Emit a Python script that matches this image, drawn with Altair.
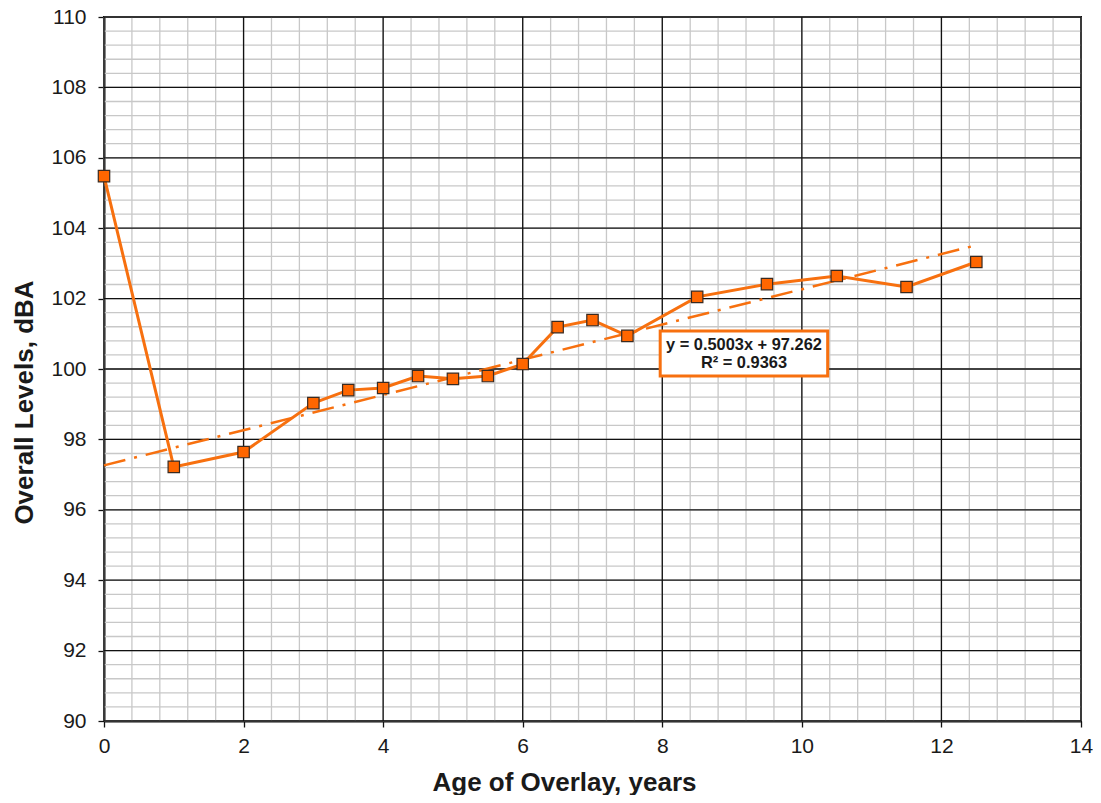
import altair as alt
import pandas as pd
import numpy as np

# Data
age = [0, 1, 2, 3, 3.5, 4, 4.5, 5, 5.5, 6, 6.5, 7, 7.5, 8.5, 9.5, 10.5, 11.5, 12.5]
level = [105.48, 97.22, 97.64, 99.03, 99.40, 99.46, 99.80, 99.72, 99.80, 100.14,
         101.19, 101.39, 100.94, 102.05, 102.41, 102.64, 102.33, 103.04]

trend_x = [0, 12.5]
trend_y = [97.262, 103.516]

eq_lines = ["y = 0.5003x + 97.262", "R² = 0.9363"]

x_major = [0, 2, 4, 6, 8, 10, 12, 14]
y_major = [90, 92, 94, 96, 98, 100, 102, 104, 106, 108, 110]
x_minor = [round(v, 1) for v in np.arange(0, 14.001, 0.4)]
y_minor = [round(v, 1) for v in np.arange(90, 110.001, 0.4)]

ORANGE = "#F7700F"
MARK = "#FF6600"
FONT = "Liberation Sans"

df = pd.DataFrame({"age": age, "level": level})
tdf = pd.DataFrame({"age": trend_x, "level": trend_y})

xs = alt.Scale(domain=[0, 14], nice=False, zero=False)
ys = alt.Scale(domain=[90, 110], nice=False, zero=False)

x_axis = alt.Axis(
    values=x_major, format="d", title="Age of Overlay, years", grid=False,
    tickColor="#111111", tickSize=6, tickWidth=1.3, labelFlush=False,
    labelFontSize=21, labelFont=FONT, labelColor="#1a1a1a", labelPadding=8,
    titleFontSize=26, titleFont=FONT, titleFontWeight="bold", titleColor="#1a1a1a",
    titleX=460, titleY=69, titleAlign="center", titleBaseline="alphabetic",
    domainColor="#111111", domainWidth=2,
)
y_axis = alt.Axis(
    values=y_major, format="d", title="Overall Levels, dBA", grid=False,
    tickColor="#111111", tickSize=6, tickWidth=1.3, labelFlush=False,
    labelFontSize=21, labelFont=FONT, labelColor="#1a1a1a", labelPadding=12,
    titleFontSize=26, titleFont=FONT, titleFontWeight="bold", titleColor="#1a1a1a",
    titleX=-80, titleY=385, titleAlign="center", titleBaseline="middle", titleAngle=270,
    domainColor="#111111", domainWidth=2,
)

gx_minor = alt.Chart(pd.DataFrame({"v": x_minor})).mark_rule(color="#c8c8c8", strokeWidth=1.3).encode(
    x=alt.X("v:Q", scale=xs, axis=x_axis))
gy_minor = alt.Chart(pd.DataFrame({"v": y_minor})).mark_rule(color="#c8c8c8", strokeWidth=1.3).encode(
    y=alt.Y("v:Q", scale=ys, axis=y_axis))
gx_major = alt.Chart(pd.DataFrame({"v": x_major})).mark_rule(color="#111111", strokeWidth=1.3).encode(
    x=alt.X("v:Q", scale=xs))
gy_major = alt.Chart(pd.DataFrame({"v": y_major})).mark_rule(color="#111111", strokeWidth=1.3).encode(
    y=alt.Y("v:Q", scale=ys))

line = alt.Chart(df).mark_line(color=ORANGE, strokeWidth=3).encode(
    x=alt.X("age:Q", scale=xs),
    y=alt.Y("level:Q", scale=ys),
)

trend = alt.Chart(tdf).mark_line(color=ORANGE, strokeWidth=2.5, strokeDash=[22, 9, 3, 9]).encode(
    x=alt.X("age:Q", scale=xs), y=alt.Y("level:Q", scale=ys)
)

pts = alt.Chart(df).mark_point(shape="square", filled=True, fill=MARK, stroke="#3a2a20",
                               strokeWidth=1.2, size=130, opacity=1).encode(
    x=alt.X("age:Q", scale=xs), y=alt.Y("level:Q", scale=ys)
)

box_df = pd.DataFrame({"x": [7.97], "x2": [10.37], "y": [99.8], "y2": [101.08]})
box = alt.Chart(box_df).mark_rect(fill="white", stroke=ORANGE, strokeWidth=3).encode(
    x=alt.X("x:Q", scale=xs), x2="x2:Q", y=alt.Y("y:Q", scale=ys), y2="y2:Q"
)

txt_df = pd.DataFrame({"x": [9.17], "y": [100.68]})
txt = alt.Chart(txt_df).mark_text(
    text=eq_lines, font=FONT, fontWeight="bold", fontSize=16.4, color="#1a1a1a",
    lineHeight=18, align="center", baseline="middle"
).encode(x=alt.X("x:Q", scale=xs), y=alt.Y("y:Q", scale=ys))

chart = alt.layer(gx_minor, gy_minor, gx_major, gy_major, trend, line, pts, box, txt).properties(
    width=977, height=704,
    autosize=alt.AutoSizeParams(type="none"),
    padding={"left": 96, "top": 9, "right": 12, "bottom": 74},
).configure_view(stroke="#111111", strokeWidth=2)

chart.save("out.html", embed_options={"renderer": "svg", "actions": False})
